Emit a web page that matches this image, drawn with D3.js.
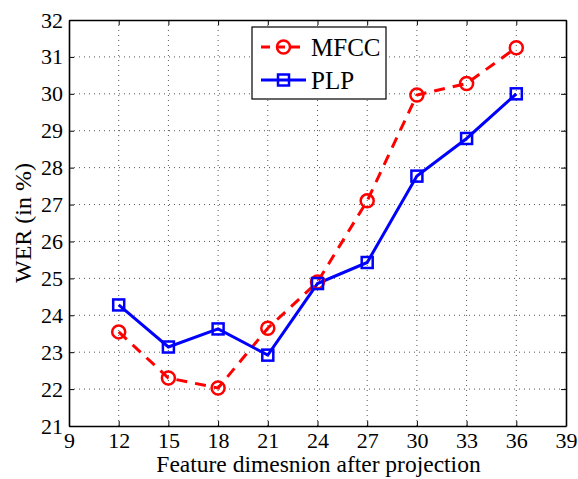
<!DOCTYPE html>
<html>
<head>
<meta charset="utf-8">
<script src="https://cdn.jsdelivr.net/npm/d3@7"></script>
<style>
  body { margin: 0; background: #fff; }
  svg { display: block; }
  text { font-family: "Liberation Serif", "Times New Roman", serif; fill: #000; }
</style>
</head>
<body>
<svg id="chart" width="578" height="479"></svg>
<script>
// Feature dimension after projection
const dims = [12, 15, 18, 21, 24, 27, 30, 33, 36];
// WER (%) per feature type
const mfcc = [23.55, 22.3, 22.03, 23.65, 24.9, 27.1, 29.97, 30.28, 31.25];
const plp  = [24.28, 23.14, 23.63, 22.92, 24.86, 25.43, 27.77, 28.79, 30.0];
const xTicks = [9, 12, 15, 18, 21, 24, 27, 30, 33, 36, 39];
const yTicks = [21, 22, 23, 24, 25, 26, 27, 28, 29, 30, 31, 32];

const svg = d3.select("#chart");
const m = { left: 69, right: 12, top: 20, bottom: 53 };
const W = 578, H = 479;
const x = d3.scaleLinear().domain([9, 39]).range([m.left, W - m.right]);
const y = d3.scaleLinear().domain([21, 32]).range([H - m.bottom, m.top]);

// dotted grid
const grid = svg.append("g");
grid.selectAll(".gx").data(xTicks.slice(1, -1)).join("line")
  .attr("x1", d => x(d)).attr("x2", d => x(d))
  .attr("y1", y(21)).attr("y2", y(32))
  .attr("stroke", "#555").attr("stroke-width", 1).attr("stroke-dasharray", "1,4");
grid.selectAll(".gy").data(yTicks.slice(1, -1)).join("line")
  .attr("x1", x(9)).attr("x2", x(39))
  .attr("y1", d => y(d)).attr("y2", d => y(d))
  .attr("stroke", "#555").attr("stroke-width", 1).attr("stroke-dasharray", "1,4");

// axes with inward ticks on all four sides
const fs = 22;
const axB = svg.append("g").attr("transform", `translate(0,${y(21)})`)
  .call(d3.axisBottom(x).tickValues(xTicks).tickSize(-5).tickPadding(10).tickSizeOuter(0));
const axT = svg.append("g").attr("transform", `translate(0,${y(32)})`)
  .call(d3.axisTop(x).tickValues(xTicks).tickSize(-5).tickFormat("").tickSizeOuter(0));
const axL = svg.append("g").attr("transform", `translate(${x(9)},0)`)
  .call(d3.axisLeft(y).tickValues(yTicks).tickSize(-5).tickPadding(6).tickSizeOuter(0));
const axR = svg.append("g").attr("transform", `translate(${x(39)},0)`)
  .call(d3.axisRight(y).tickValues(yTicks).tickSize(-5).tickFormat("").tickSizeOuter(0));
[axB, axT, axL, axR].forEach(a => {
  a.select(".domain").attr("stroke", "#000").attr("stroke-width", 1.6);
  a.selectAll(".tick line").attr("stroke", "#000").attr("stroke-width", 1);
  a.selectAll("text").style("font-family", "Liberation Serif, serif").style("font-size", fs + "px").attr("fill", "#000");
});
axB.selectAll("text").attr("y", 22).attr("dy", 0);

// axis titles
svg.append("text").attr("x", (x(9) + x(39)) / 2 + 1).attr("y", 472)
  .attr("text-anchor", "middle").style("font-size", "23.5px")
  .text("Feature dimesnion after projection");
svg.append("text").attr("transform", `translate(31,${(y(21) + y(32)) / 2}) rotate(-90)`)
  .attr("text-anchor", "middle").style("font-size", "24px")
  .text("WER (in %)");

// series
const line = d3.line().x(d => x(d[0])).y(d => y(d[1]));
const mData = dims.map((d, i) => [d, mfcc[i]]);
const pData = dims.map((d, i) => [d, plp[i]]);

svg.append("path").datum(mData).attr("d", line)
  .attr("fill", "none").attr("stroke", "#ff0000").attr("stroke-width", 3)
  .attr("stroke-dasharray", "11,8");
svg.append("path").datum(pData).attr("d", line)
  .attr("fill", "none").attr("stroke", "#0000ff").attr("stroke-width", 3);

function circleMarker(g, cx, cy) {
  g.append("circle").attr("cx", cx).attr("cy", cy).attr("r", 6.5)
    .attr("fill", "none").attr("stroke", "#ff0000").attr("stroke-width", 2.5);
}
function squareMarker(g, cx, cy) {
  g.append("rect").attr("x", cx - 5.5).attr("y", cy - 5.5).attr("width", 11).attr("height", 11)
    .attr("fill", "none").attr("stroke", "#0000ff").attr("stroke-width", 2.5);
}
const mg = svg.append("g");
mData.forEach(d => circleMarker(mg, x(d[0]), y(d[1])));
const pg = svg.append("g");
pData.forEach(d => squareMarker(pg, x(d[0]), y(d[1])));

// legend
const lg = svg.append("g");
lg.append("rect").attr("x", 252).attr("y", 27).attr("width", 134).attr("height", 72)
  .attr("fill", "#fff").attr("stroke", "#000").attr("stroke-width", 1.2);
const legendItems = [
  { name: "MFCC", color: "#ff0000", dash: "9,6", marker: circleMarker, cy: 47 },
  { name: "PLP", color: "#0000ff", dash: null, marker: squareMarker, cy: 80 }
];
legendItems.forEach(it => {
  lg.append("line").attr("x1", 261).attr("x2", 306).attr("y1", it.cy).attr("y2", it.cy)
    .attr("stroke", it.color).attr("stroke-width", 3)
    .attr("stroke-dasharray", it.dash);
  it.marker(lg, 283.5, it.cy);
  lg.append("text").attr("x", 311).attr("y", it.cy).attr("dy", "0.35em")
    .style("font-size", "25px").text(it.name);
});
</script>
</body>
</html>
